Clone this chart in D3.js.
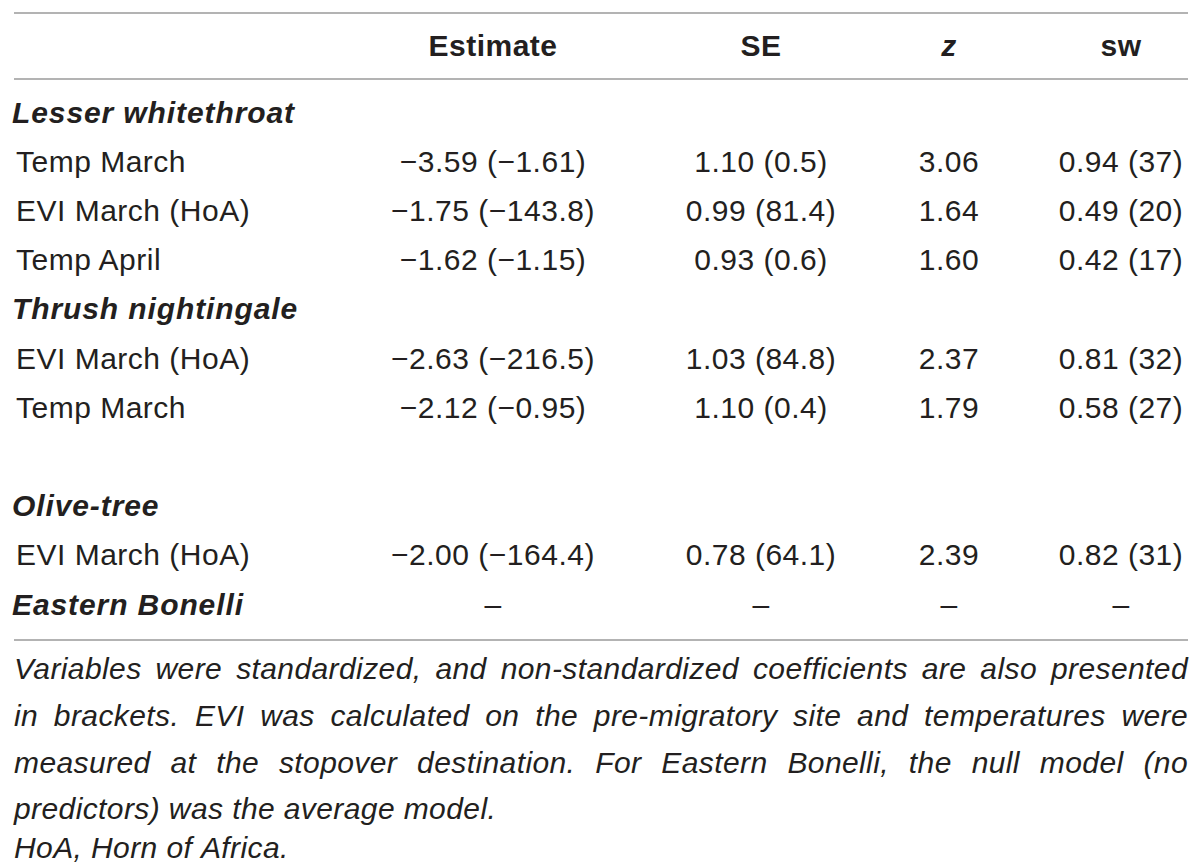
<!DOCTYPE html>
<html>
<head>
<meta charset="utf-8">
<script src="https://cdn.jsdelivr.net/npm/d3@7"></script>
<style>
  body { margin: 0; background: #fff; }
  svg { display: block; font-family: "Liberation Sans", Arial, Helvetica, sans-serif; }
</style>
</head>
<body>
<div id="table"></div>
<script>
// Cột và nội dung bảng
const columns = ["Estimate", "SE", "z", "sw"];
const rowLabels = ["Lesser whitethroat", "Temp March", "EVI March (HoA)", "Temp April",
  "Thrush nightingale", "EVI March (HoA)", "Temp March", "",
  "Olive-tree", "EVI March (HoA)", "Eastern Bonelli"];
const isSpecies = [true, false, false, false, true, false, false, false, true, false, true];
const estimates = ["", "\u22123.59 (\u22121.61)", "\u22121.75 (\u2212143.8)", "\u22121.62 (\u22121.15)",
  "", "\u22122.63 (\u2212216.5)", "\u22122.12 (\u22120.95)", "", "", "\u22122.00 (\u2212164.4)", "\u2013"];
const seValues = ["", "1.10 (0.5)", "0.99 (81.4)", "0.93 (0.6)", "", "1.03 (84.8)", "1.10 (0.4)", "", "", "0.78 (64.1)", "\u2013"];
const zValues = ["", "3.06", "1.64", "1.60", "", "2.37", "1.79", "", "", "2.39", "\u2013"];
const swValues = ["", "0.94 (37)", "0.49 (20)", "0.42 (17)", "", "0.81 (32)", "0.58 (27)", "", "", "0.82 (31)", "\u2013"];
// Các dòng chú thích (dòng cuối đoạn không căn đều)
const footnoteLines = [
  "Variables were standardized, and non-standardized coefficients are also presented",
  "in brackets. EVI was calculated on the pre-migratory site and temperatures were",
  "measured at the stopover destination. For Eastern Bonelli, the null model (no",
  "predictors) was the average model.",
  "HoA, Horn of Africa."
];
const justified = [true, true, true, false, false];

const width = 1200, height = 865;
const left = 14, right = 1188;
const ink = "#231f20";
const fontSize = 30;

const svg = d3.select("#table").append("svg")
  .attr("width", width)
  .attr("height", height);

// Vị trí cột (tâm) và dòng
const colCenter = { "Estimate": 493, "SE": 761, "z": 949, "sw": 1121 };
const y = d3.scalePoint().domain(d3.range(rowLabels.length)).range([112, 604]);

// Đường kẻ ngang
[13, 79, 640].forEach(ly => {
  svg.append("line")
    .attr("x1", left).attr("x2", right)
    .attr("y1", ly).attr("y2", ly)
    .attr("stroke", "#b3b3b3")
    .attr("stroke-width", 2);
});

// Tiêu đề cột
svg.selectAll(".head")
  .data(columns)
  .enter()
  .append("text")
  .attr("class", "head")
  .attr("x", d => colCenter[d])
  .attr("y", 45)
  .attr("dy", "0.35em")
  .attr("text-anchor", "middle")
  .attr("font-size", fontSize)
  .attr("font-weight", "bold")
  .attr("letter-spacing", 0.5)
  .attr("font-style", d => d === "z" ? "italic" : "normal")
  .attr("fill", ink)
  .text(d => d);

// Nhãn dòng
svg.selectAll(".label")
  .data(rowLabels)
  .enter()
  .append("text")
  .attr("class", "label")
  .attr("x", (d, i) => isSpecies[i] ? 12 : 16)
  .attr("y", (d, i) => y(i))
  .attr("dy", "0.35em")
  .attr("font-size", fontSize)
  .attr("font-weight", (d, i) => isSpecies[i] ? "bold" : "normal")
  .attr("font-style", (d, i) => isSpecies[i] ? "italic" : "normal")
  .attr("letter-spacing", (d, i) => isSpecies[i] ? 0.9 : 0.5)
  .attr("fill", ink)
  .text(d => d);

// Giá trị các ô
const cells = [
  { col: "Estimate", values: estimates },
  { col: "SE", values: seValues },
  { col: "z", values: zValues },
  { col: "sw", values: swValues }
];
cells.forEach(c => {
  svg.selectAll(".cell-" + c.col)
    .data(c.values)
    .enter()
    .append("text")
    .attr("x", colCenter[c.col])
    .attr("y", (d, i) => y(i))
    .attr("dy", "0.35em")
    .attr("text-anchor", "middle")
    .attr("font-size", fontSize)
    .attr("letter-spacing", 0.5)
    .attr("fill", ink)
    .text(d => d);
});

// Chú thích (căn đều hai bên)
const noteG = svg.append("g")
  .attr("font-size", fontSize)
  .attr("font-style", "italic")
  .attr("letter-spacing", 0.4)
  .attr("fill", ink);

const measure = noteG.append("text").attr("x", -1000).attr("y", -1000);
const wordWidth = w => { measure.text(w); return measure.node().getComputedTextLength(); };
const spaceW = wordWidth("a a") - wordWidth("aa");

const noteY = [668, 715, 762, 808, 847];
const avail = right - left;
footnoteLines.forEach((line, li) => {
  const words = line.split(" ");
  const widths = words.map(wordWidth);
  const total = d3.sum(widths);
  const gap = justified[li] ? (avail - total) / (words.length - 1) : spaceW;
  let cx = left;
  words.forEach((w, wi) => {
    noteG.append("text")
      .attr("x", cx)
      .attr("y", noteY[li])
      .attr("dy", "0.35em")
      .text(w);
    cx += widths[wi] + gap;
  });
});
measure.remove();
</script>
</body>
</html>
